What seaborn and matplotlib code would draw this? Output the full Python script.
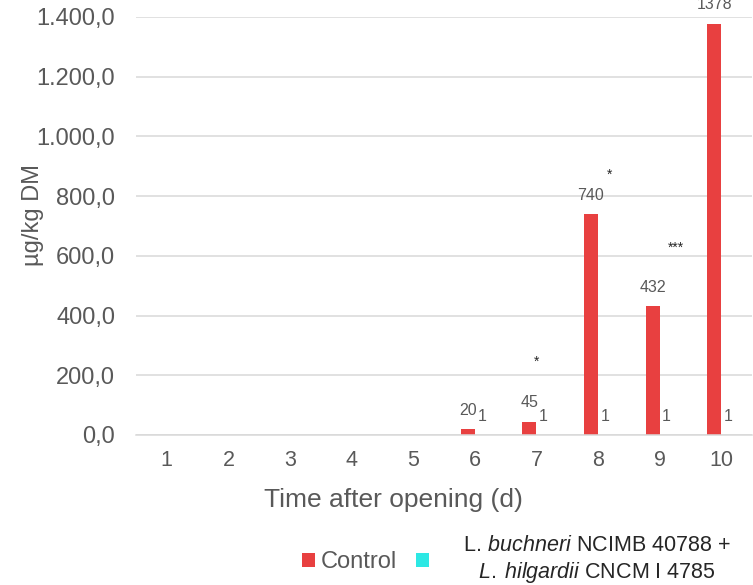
import matplotlib
matplotlib.use("Agg")
import matplotlib.pyplot as plt
import seaborn as sns
import pandas as pd
import numpy as np
from matplotlib.ticker import FuncFormatter

# ---- data ----
days = ["1", "2", "3", "4", "5", "6", "7", "8", "9", "10"]
control = [0, 0, 0, 0, 0, 20, 45, 740, 432, 1378]
treated = [0, 0, 0, 0, 0, 1, 1, 1, 1, 1]
groups = ["Control", "Treated"]
legend_labels = ["Control",
                 "     L. $\\it{buchneri}$ NCIMB 40788 +\n     $\\it{L.\\:hilgardii}$ CNCM I 4785"]
yticks = [0, 200, 400, 600, 800, 1000, 1200, 1400]
# significance annotations: (category index, x offset in category units, height, text)
sig_pos = [6, 7, 8]
sig_dx = [0.0, 0.18, 0.26]
sig_y = [245, 871, 626]
sig_txt = ["*", "*", "***"]

colors = ["#E84040", "#2DE8E4"]
grey = "#595959"

sns.set_theme(style="white")
plt.rcParams["font.family"] = ["Liberation Sans", "DejaVu Sans"]
plt.rcParams["mathtext.fontset"] = "custom"
plt.rcParams["mathtext.rm"] = "Liberation Sans"
plt.rcParams["mathtext.it"] = "Liberation Sans:italic"

df = pd.DataFrame({
    "day": days * 2,
    "value": control + treated,
    "group": [groups[0]] * len(days) + [groups[1]] * len(days),
})

fig = plt.figure(figsize=(7.53, 5.85), dpi=100)
ax = fig.add_axes([136 / 753, 1 - 435 / 585, (752 - 136) / 753, (435 - 17) / 585])

sns.barplot(data=df, x="day", y="value", hue="group", order=days, hue_order=groups,
            palette=colors, width=0.455, saturation=1, linewidth=0, errorbar=None, ax=ax)

# value labels
for cont, vals in zip(ax.containers, [control, treated]):
    labs = [f"{v:g}" if v > 0 else "" for v in vals]
    ax.bar_label(cont, labels=labs, padding=8, fontsize=11.5, color=grey)

# significance marks
for p, dx, y, t in zip(sig_pos, sig_dx, sig_y, sig_txt):
    ax.text(p + dx, y, t, ha="center", va="center", fontsize=10, color="#262626")

ax.set_ylim(0, 1400)
ax.set_yticks(yticks)
ax.yaxis.set_major_formatter(FuncFormatter(
    lambda v, _: f"{v:,.1f}".replace(",", "X").replace(".", ",").replace("X", ".")))
ax.yaxis.grid(True, color="#D9D9D9", linewidth=1.1)
ax.set_axisbelow(True)
for s in ["top", "right", "left"]:
    ax.spines[s].set_visible(False)
ax.spines["bottom"].set_color("#D9D9D9")
ax.spines["bottom"].set_linewidth(1.1)

ax.tick_params(axis="x", length=0, pad=11, labelsize=15.5, labelcolor=grey)
ax.tick_params(axis="y", length=0, pad=15, labelsize=17, labelcolor=grey)
ax.set_xlabel("Time after opening (d)", fontsize=19, color=grey)
ax.set_ylabel("µg/kg DM", fontsize=17, color=grey)
ax.xaxis.set_label_coords(0.418, -0.1268)
ax.yaxis.set_label_coords(-0.150, 0.526)

handles, _ = ax.get_legend_handles_labels()
ax.legend_.remove()
leg = fig.legend(handles, legend_labels, loc="center left",
                 bbox_to_anchor=(302 / 753, 1 - 560 / 585), ncol=2, frameon=False,
                 fontsize=17, handlelength=0.54, handleheight=0.54, handletextpad=0.25,
                 columnspacing=0.8, borderpad=0, borderaxespad=0, labelcolor=grey)
for t in leg.get_texts():
    t.set_multialignment("center")
leg.get_texts()[1].set_color("#262626")
leg.get_texts()[1].set_fontsize(15.5)

fig.savefig("out.png", dpi=100)
